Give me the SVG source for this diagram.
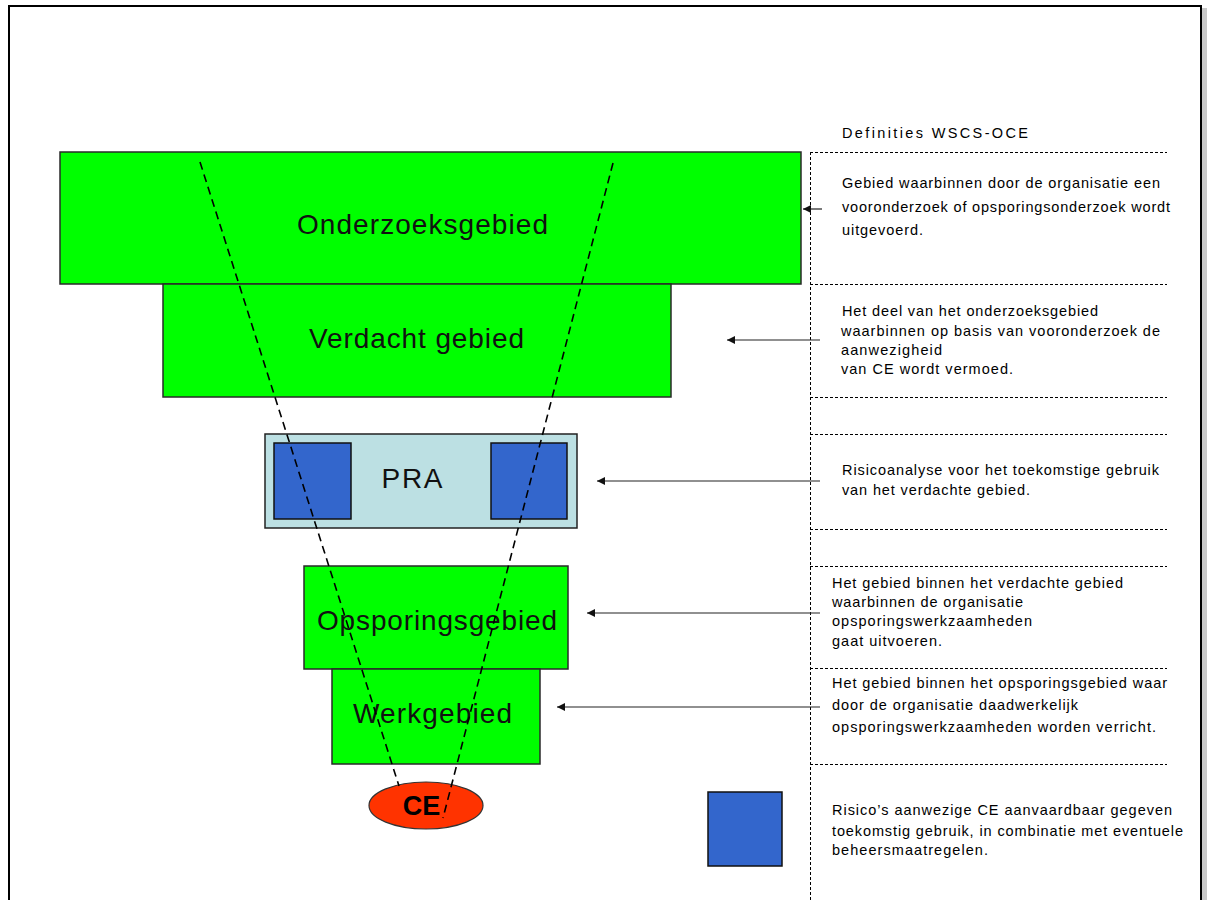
<svg xmlns="http://www.w3.org/2000/svg" width="1207" height="900" viewBox="0 0 1207 900">
<defs>
<style>
.area{fill:#00FF00;stroke:#2a2a2a;stroke-width:1.5}
.lbl{font-family:"Liberation Sans",Arial,sans-serif;font-size:28px;fill:#111;text-anchor:middle}
.def{font-family:"Liberation Sans",Arial,sans-serif;font-size:14.5px;fill:#000}
.sep{stroke:#000;stroke-width:1;stroke-dasharray:3 2;fill:none}
.funnel{stroke:#000;stroke-width:1.6;stroke-dasharray:8 5;fill:none}
.arr{stroke:#222;stroke-width:1.2;fill:none;marker-end:url(#ah)}
.sq{fill:#3366CC;stroke:#111;stroke-width:1.5}
</style>
<marker id="ah" viewBox="0 0 10 10" refX="10" refY="5" markerWidth="10" markerHeight="8" markerUnits="userSpaceOnUse" orient="auto">
<path d="M0,0 L10,5 L0,10 z" fill="#111"/>
</marker>
</defs>
<rect x="0" y="0" width="1207" height="900" fill="#fff"/>
<g id="frame">
<rect x="1202" y="8" width="5" height="892" fill="#c8c8c8"/>
<rect x="9" y="6" width="1192" height="900" fill="none" stroke="#000" stroke-width="2"/>
</g>
<g id="separators">
<line class="sep" x1="810.5" y1="152" x2="810.5" y2="900"/>
<line class="sep" x1="810" y1="152.5" x2="1167" y2="152.5"/>
<line class="sep" x1="810" y1="284.5" x2="1167" y2="284.5"/>
<line class="sep" x1="810" y1="397.5" x2="1167" y2="397.5"/>
<line class="sep" x1="810" y1="434.5" x2="1167" y2="434.5"/>
<line class="sep" x1="810" y1="529.5" x2="1167" y2="529.5"/>
<line class="sep" x1="810" y1="566.5" x2="1167" y2="566.5"/>
<line class="sep" x1="810" y1="668.5" x2="1167" y2="668.5"/>
<line class="sep" x1="810" y1="764.5" x2="1167" y2="764.5"/>
</g>
<g id="onderzoeksgebied">
<rect class="area" x="60" y="152" width="741" height="132"/>
<text class="lbl" x="422.5" y="234" textLength="251" lengthAdjust="spacing">Onderzoeksgebied</text>
</g>
<g id="verdacht-gebied">
<rect class="area" x="163" y="284" width="508" height="113"/>
<text class="lbl" x="416.5" y="348" textLength="215" lengthAdjust="spacing">Verdacht gebied</text>
</g>
<g id="pra">
<rect x="265" y="434" width="312" height="94" fill="#BCE0E3" stroke="#222" stroke-width="1.5"/>
<rect class="sq" x="274" y="443" width="77" height="76"/>
<rect class="sq" x="491" y="443" width="76" height="76"/>
<text class="lbl" x="412" y="488" textLength="61" lengthAdjust="spacing">PRA</text>
</g>
<g id="opsporingsgebied">
<rect class="area" x="304" y="566" width="264" height="103"/>
<text class="lbl" x="437" y="630" textLength="240" lengthAdjust="spacing">Opsporingsgebied</text>
</g>
<g id="werkgebied">
<rect class="area" x="332" y="669" width="208" height="95"/>
<text class="lbl" x="432.5" y="723" textLength="159" lengthAdjust="spacing">Werkgebied</text>
</g>
<g id="ce">
<ellipse cx="426" cy="805.5" rx="57" ry="23.5" fill="#FF3300" stroke="#333" stroke-width="1.2"/>
<text x="421.5" y="815" font-family="'Liberation Sans',Arial,sans-serif" font-size="27" font-weight="bold" text-anchor="middle" fill="#000">CE</text>
</g>
<g id="legend-square">
<rect class="sq" x="708" y="792" width="74" height="74"/>
</g>
<g id="funnel">
<line class="funnel" x1="200" y1="162" x2="399" y2="786"/>
<line class="funnel" x1="613" y1="163" x2="443" y2="818"/>
</g>
<g id="connectors">
<line class="arr" x1="822" y1="209" x2="803" y2="209"/>
<line class="arr" x1="820" y1="340" x2="727" y2="340"/>
<line class="arr" x1="820" y1="481" x2="597" y2="481"/>
<line class="arr" x1="820" y1="613" x2="587" y2="613"/>
<line class="arr" x1="820" y1="707" x2="557" y2="707"/>
</g>
<g id="definitions">
<text class="def" x="842" y="138" textLength="186" lengthAdjust="spacing">Definities WSCS-OCE</text>
<text class="def" x="842" y="188" textLength="318" lengthAdjust="spacing">Gebied waarbinnen door de organisatie een</text>
<text class="def" x="842" y="212" textLength="328" lengthAdjust="spacing">vooronderzoek of opsporingsonderzoek wordt</text>
<text class="def" x="842" y="235" textLength="81" lengthAdjust="spacing">uitgevoerd.</text>
<text class="def" x="842" y="316" textLength="256" lengthAdjust="spacing">Het deel van het onderzoeksgebied</text>
<text class="def" x="841" y="336" textLength="319" lengthAdjust="spacing">waarbinnen op basis van vooronderzoek de</text>
<text class="def" x="841" y="355" textLength="101" lengthAdjust="spacing">aanwezigheid</text>
<text class="def" x="841" y="374" textLength="172" lengthAdjust="spacing">van CE wordt vermoed.</text>
<text class="def" x="842" y="475" textLength="317" lengthAdjust="spacing">Risicoanalyse voor het toekomstige gebruik</text>
<text class="def" x="842" y="495" textLength="188" lengthAdjust="spacing">van het verdachte gebied.</text>
<text class="def" x="832" y="588" textLength="291" lengthAdjust="spacing">Het gebied binnen het verdachte gebied</text>
<text class="def" x="832" y="607" textLength="191" lengthAdjust="spacing">waarbinnen de organisatie</text>
<text class="def" x="832" y="626" textLength="200" lengthAdjust="spacing">opsporingswerkzaamheden</text>
<text class="def" x="832" y="646" textLength="110" lengthAdjust="spacing">gaat uitvoeren.</text>
<text class="def" x="832" y="688" textLength="335" lengthAdjust="spacing">Het gebied binnen het opsporingsgebied waar</text>
<text class="def" x="832" y="710" textLength="246" lengthAdjust="spacing">door de organisatie daadwerkelijk</text>
<text class="def" x="832" y="732" textLength="324" lengthAdjust="spacing">opsporingswerkzaamheden worden verricht.</text>
<text class="def" x="832" y="815" textLength="340" lengthAdjust="spacing">Risico’s aanwezige CE aanvaardbaar gegeven</text>
<text class="def" x="832" y="836" textLength="351" lengthAdjust="spacing">toekomstig gebruik, in combinatie met eventuele</text>
<text class="def" x="832" y="855" textLength="156" lengthAdjust="spacing">beheersmaatregelen.</text>
</g>
</svg>
